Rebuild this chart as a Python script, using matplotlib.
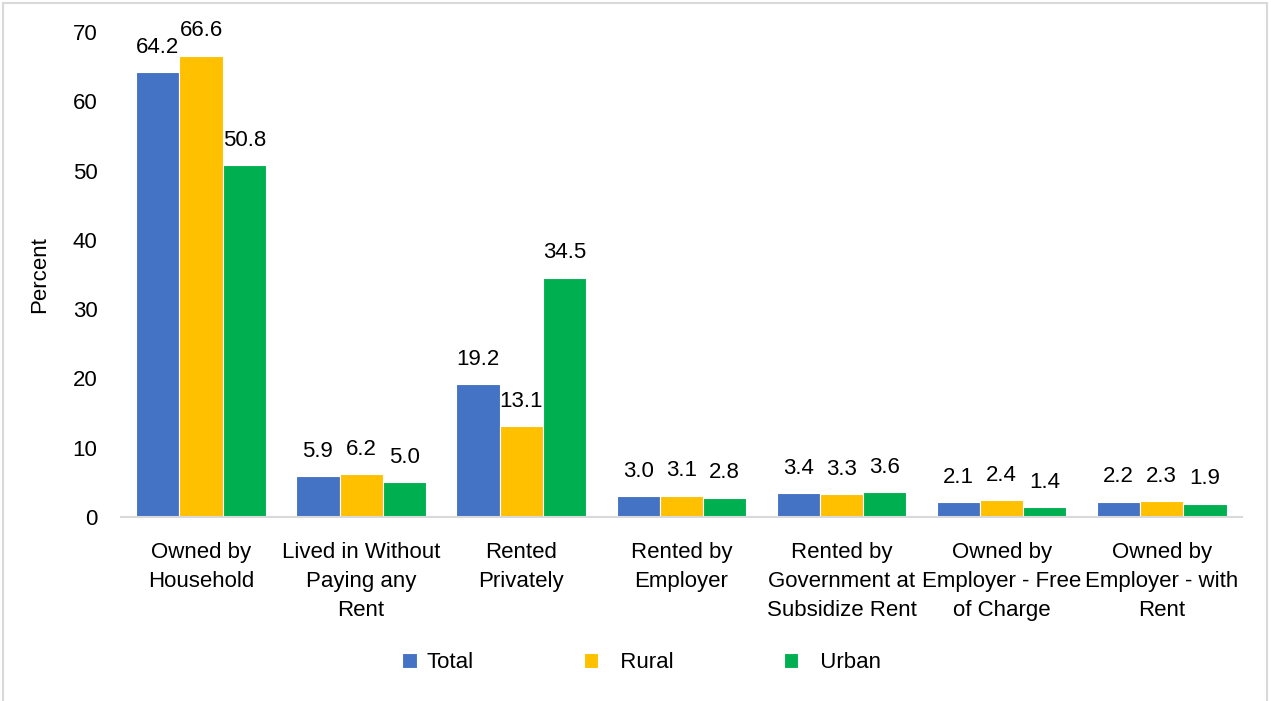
import numpy as np
import matplotlib.pyplot as plt
from matplotlib.patches import Rectangle

plt.rcParams['font.family'] = ['Liberation Sans', 'DejaVu Sans']

# ---- Data: tenure status of dwellings, percent ----
categories = [
    'Owned by\nHousehold',
    'Lived in Without\nPaying any\nRent',
    'Rented\nPrivately',
    'Rented by\nEmployer',
    'Rented by\nGovernment at\nSubsidize Rent',
    'Owned by\nEmployer - Free\nof Charge',
    'Owned by\nEmployer - with\nRent',
]
total = [64.2, 5.9, 19.2, 3.0, 3.4, 2.1, 2.2]
rural = [66.6, 6.2, 13.1, 3.1, 3.3, 2.4, 2.3]
urban = [50.8, 5.0, 34.5, 2.8, 3.6, 1.4, 1.9]

# legend text is padded the way the source sheet lays it out
series = [('Total', total, '#4472C4'),
          ('  Rural', rural, '#FFC000'),
          ('  Urban', urban, '#00B050')]

FS = 16
BAR_W = 0.27

fig = plt.figure(figsize=(12.71, 7.01), dpi=100)
ax = fig.add_axes([0.0952, 0.2625, 0.8818, 0.6919])

x = np.arange(len(categories))
for i, (name, vals, color) in enumerate(series):
    pos = x + (i - 1) * BAR_W
    bars = ax.bar(pos, vals, BAR_W, color=color, edgecolor='white',
                  linewidth=0.8, label=name, zorder=2)
    for b, v in zip(bars, vals):
        ax.annotate(f'{v:.1f}', (b.get_x() + b.get_width() / 2, v),
                    xytext=(0, 14), textcoords='offset points',
                    ha='center', va='baseline', fontsize=FS,
                    annotation_clip=False)

ax.set_xlim(-0.5, len(categories) - 0.5)
ax.set_ylim(0, 70)
ax.set_yticks(range(0, 71, 10))
ax.set_xticks(x)
ax.set_xticklabels(categories, fontsize=FS, linespacing=1.5)
ax.tick_params(axis='y', labelsize=FS, length=0, pad=17)
ax.tick_params(axis='x', length=0, pad=18)

for side in ('top', 'right', 'left'):
    ax.spines[side].set_visible(False)
ax.spines['bottom'].set_color('#D9D9D9')
ax.spines['bottom'].set_linewidth(1.5)

ax.set_ylabel('Percent', fontsize=FS, labelpad=16)

fig.legend(loc='center left', bbox_to_anchor=(0.3165, 0.055), ncol=3,
           frameon=False, fontsize=FS, handlelength=0.65, handleheight=0.65,
           handletextpad=0.45, columnspacing=4.95, borderpad=0,
           borderaxespad=0)

# light frame round the whole chart area
fig.patches.append(Rectangle((0.002, -0.01), 0.995, 1.006,
                             transform=fig.transFigure, fill=False,
                             edgecolor='#D9D9D9', linewidth=1.5))

fig.savefig('out.png', dpi=100)
